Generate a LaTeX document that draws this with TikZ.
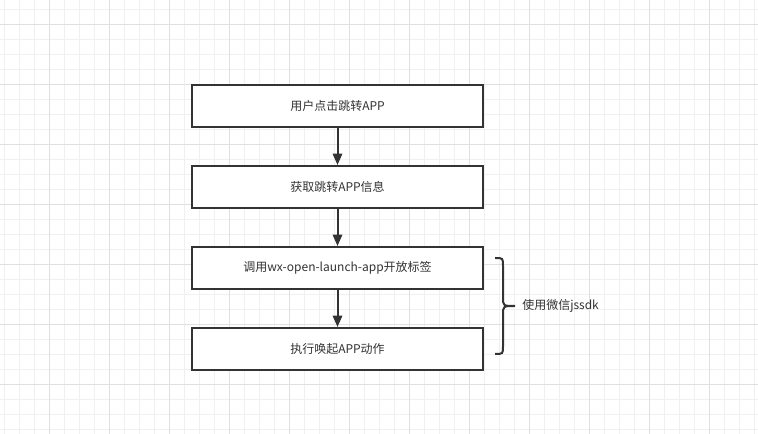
\documentclass[tikz,border=0pt]{standalone}
\usepackage{fontspec}
\setmainfont{Noto Sans CJK SC}
\usetikzlibrary{arrows.meta}
\definecolor{gridminor}{HTML}{F0F0F0}
\definecolor{gridmajor}{HTML}{E0E0E0}
\definecolor{ink}{HTML}{333333}
\begin{document}
\begin{tikzpicture}[x=0.75pt,y=-0.75pt,
  stepbox/.style={draw=ink,line width=1.5pt,fill=white,minimum width=291*0.75pt,minimum height=42*0.75pt,inner sep=0pt,font=\fontsize{9}{11}\selectfont,text=ink},
  flow/.style={draw=ink,line width=1.5pt,-{Triangle[length=8.5pt,width=7pt]}},
  bracestyle/.style={draw=ink,line width=1.5pt}]
\useasboundingbox (0,0) rectangle (758,434);
\fill[white] (0,0) rectangle (758,434);
\foreach \i in {0,...,50} {
  \draw[gridminor,line width=0.75pt] (4+15*\i,0) -- (4+15*\i,434);
}
\foreach \i in {0,...,28} {
  \draw[gridminor,line width=0.75pt] (0,10+15*\i) -- (758,10+15*\i);
}
\foreach \i in {0,...,12} {
  \draw[gridmajor,line width=0.75pt] (49+60*\i,0) -- (49+60*\i,434);
}
\foreach \i in {0,...,7} {
  \draw[gridmajor,line width=0.75pt] (0,25+60*\i) -- (758,25+60*\i);
}
\node[stepbox] (a) at (337.5,106) {用户点击跳转APP};
\node[stepbox] (b) at (337.5,187) {获取跳转APP信息};
\node[stepbox] (c) at (337.5,268) {调用wx-open-launch-app开放标签};
\node[stepbox] (d) at (337.5,349) {执行唤起APP动作};
\draw[flow] (a) -- (b);
\draw[flow] (b) -- (c);
\draw[flow] (c) -- (d);
\coordinate (tip) at (515,306);
\draw[bracestyle] (495,258) .. controls (503,258) .. (503,266) -- (503,297) .. controls (503,306) .. (tip)
  .. controls (503,306) .. (503,315) -- (503,346) .. controls (503,354) .. (495,354);
\node[anchor=west,inner sep=0pt,font=\fontsize{9}{11}\selectfont,text=ink] (lbl) at (522,306) {使用微信jssdk};
\end{tikzpicture}
\end{document}
